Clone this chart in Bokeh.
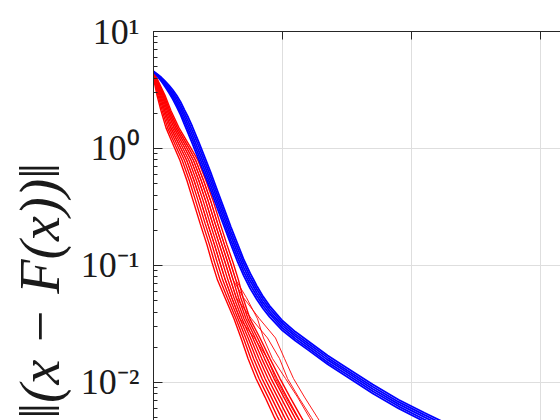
import numpy as np
from bokeh.plotting import figure
from bokeh.layouts import row
from bokeh.models import Range1d, SingleIntervalTicker, CustomJSTickFormatter
from bokeh.core.properties import value
from bokeh.embed import file_html
from bokeh.resources import INLINE

# ---------------- data ----------------
# blue runs: residual on a shared iteration grid
blue_iter = [0, 3, 6, 9, 12, 15, 18, 21, 24, 27, 30, 35, 40, 45, 50, 55, 60, 65, 70, 75, 80, 85, 90,
             100, 110, 120, 135, 150, 170, 190, 210, 230, 250]
blue_run_1 = [4.55, 4.31, 4.06, 3.76, 3.47, 3.16, 2.84, 2.50, 2.14, 1.84, 1.55, 1.14, 0.829, 0.597, 0.423, 0.300,
              0.213, 0.155, 0.112, 0.0855, 0.0673, 0.0542, 0.0452, 0.0337, 0.0271, 0.0225, 0.0170, 0.0133,
              0.00959, 0.00712, 0.00551, 0.00430, 0.00335]
blue_run_2 = [4.55, 4.27, 3.98, 3.66, 3.34, 3.02, 2.68, 2.34, 2.00, 1.70, 1.42, 1.05, 0.760, 0.547, 0.388, 0.275,
              0.195, 0.142, 0.104, 0.0793, 0.0630, 0.0511, 0.0429, 0.0321, 0.0259, 0.0215, 0.0163, 0.0127,
              0.00918, 0.00682, 0.00528, 0.00412, 0.00321]
blue_run_3 = [4.55, 4.23, 3.91, 3.56, 3.22, 2.88, 2.54, 2.20, 1.86, 1.57, 1.31, 0.959, 0.697, 0.502, 0.356, 0.252,
              0.179, 0.130, 0.0957, 0.0736, 0.0589, 0.0481, 0.0406, 0.0306, 0.0248, 0.0206, 0.0156, 0.0122,
              0.00879, 0.00653, 0.00505, 0.00394, 0.00307]
blue_run_4 = [4.55, 4.19, 3.84, 3.46, 3.10, 2.75, 2.40, 2.06, 1.73, 1.45, 1.21, 0.880, 0.639, 0.460, 0.327, 0.231,
              0.164, 0.119, 0.0883, 0.0683, 0.0551, 0.0453, 0.0385, 0.0292, 0.0237, 0.0197, 0.0149, 0.0117,
              0.00841, 0.00625, 0.00483, 0.00377, 0.00294]
blue_run_5 = [4.55, 4.15, 3.77, 3.37, 2.99, 2.63, 2.27, 1.94, 1.61, 1.34, 1.11, 0.807, 0.586, 0.422, 0.299, 0.212,
              0.151, 0.109, 0.0814, 0.0634, 0.0515, 0.0427, 0.0364, 0.0278, 0.0227, 0.0189, 0.0143, 0.0112,
              0.00806, 0.00599, 0.00463, 0.00361, 0.00281]
blue_runs = [blue_run_1, blue_run_2, blue_run_3, blue_run_4, blue_run_5]

# red runs: iteration at which each run reaches the shared residual levels
red_levels = [4.55, 3.8, 2.85, 2.1, 1.5, 1.06, 0.79, 0.53, 0.36, 0.23, 0.15, 0.106, 0.075, 0.053, 0.035,
              0.024, 0.016, 0.0108, 0.0075, 0.005, 0.0034]
red_run_1 = [0, 0.39, 2.71, 5.81, 9.69, 15.50, 20.54, 25.97, 30.62, 36.05, 41.47, 45.35, 49.61, 55.43, 62.40,
             67.83, 73.26, 79.46, 86.43, 93.80, 101.94]
red_run_2 = [0, 0.78, 3.49, 6.78, 10.95, 17.05, 22.29, 27.81, 32.56, 37.98, 43.41, 47.38, 51.65, 57.17, 63.95,
             69.67, 75.39, 81.78, 88.86, 96.42, 104.65]
red_run_3 = [0, 1.16, 4.26, 7.75, 12.21, 18.60, 24.03, 29.65, 34.50, 39.92, 45.35, 49.42, 53.68, 58.92, 65.50,
             71.51, 77.52, 84.11, 91.28, 99.03, 107.37]
red_run_4 = [0, 1.55, 5.04, 8.72, 13.47, 20.16, 25.78, 31.49, 36.43, 41.86, 47.29, 51.45, 55.72, 60.66, 67.05,
             73.35, 79.65, 86.43, 93.70, 101.65, 110.08]
red_run_5 = [0, 1.94, 5.81, 9.69, 14.73, 21.71, 27.52, 33.33, 38.37, 43.80, 49.22, 53.49, 57.75, 62.40, 68.60,
             75.19, 81.78, 88.76, 96.12, 104.26, 112.79]
red_run_6 = [0, 2.33, 6.59, 10.66, 15.99, 23.26, 29.26, 35.17, 40.31, 45.74, 51.16, 55.52, 59.79, 64.15, 70.16,
             77.04, 83.91, 91.09, 98.55, 106.88, 115.50]
red_run_7 = [0, 2.71, 7.36, 11.63, 17.25, 24.81, 31.01, 37.02, 42.25, 47.67, 53.10, 57.56, 61.82, 65.89, 71.71,
             78.88, 86.05, 93.41, 100.97, 109.50, 118.22]
red_run_8 = [0, 3.10, 8.14, 12.60, 18.51, 26.36, 32.75, 38.86, 44.19, 49.61, 55.04, 59.59, 63.86, 67.64, 73.26,
             80.72, 88.18, 95.74, 103.39, 112.11, 120.93]
red_run_9 = [0, 3.49, 8.91, 13.57, 19.77, 27.91, 34.50, 40.70, 46.12, 51.55, 56.98, 61.63, 65.89, 69.38, 74.81,
             82.56, 90.31, 98.06, 105.81, 114.73, 123.64]
red_run_10 = [0, 2.71, 7.36, 11.63, 17.25, 24.81, 31.01, 37.02, 42.25, 47.67, 53.10, 57.56, 61.82, 69.77, 82.17,
              94.57, 101.55, 108.53, 117.06, 127.13, 136.44]
red_run_11 = [0, 2.33, 6.59, 10.66, 15.99, 23.26, 29.26, 35.17, 40.31, 45.74, 51.16, 55.52, 59.79, 64.15, 75.97,
              88.37, 97.68, 103.88, 112.40, 122.48, 131.78]
red_run_12 = [0, 3.10, 8.14, 12.60, 18.51, 26.36, 32.75, 38.86, 44.19, 49.61, 55.04, 59.59, 63.86, 72.09, 80.62,
              85.27, 92.25, 102.33, 111.63, 120.93, 130.23]
red_run_13 = [0, 1.55, 5.04, 8.72, 13.47, 20.16, 25.78, 31.49, 36.43, 41.86, 47.29, 51.45, 55.72, 60.66, 67.05,
              78.30, 88.37, 94.57, 102.33, 111.63, 120.93]
red_runs_dense = [red_run_1, red_run_2, red_run_3, red_run_4, red_run_5, red_run_6, red_run_7, red_run_8, red_run_9]
red_runs_thin = [red_run_10, red_run_11, red_run_12, red_run_13]

y_tick_exponents = [-2, -1, 0, 1]
y_tick_labels = ["10⁻²", "10⁻¹", "10⁰", "10¹"]
x_tick_interval = 100
y_axis_title = ["‖(x − F(x))‖"]

AX = "#262626"

# ---------------- y-axis title strip ----------------
t = figure(width=76, height=420, output_backend="svg", toolbar_location=None,
           x_range=Range1d(0, 76), y_range=Range1d(0, 420),
           x_axis_location=None, y_axis_location=None,
           min_border_left=0, min_border_right=0, min_border_top=0, min_border_bottom=0)
t.outline_line_color = None
t.xgrid.visible = False
t.ygrid.visible = False
t.background_fill_color = "white"
t.border_fill_color = "white"
t.text(x=[39], y=[278], text=y_axis_title, angle=np.pi / 2,
       text_align="right", text_baseline="middle",
       text_font=value("Liberation Serif"), text_font_style="italic",
       text_font_size=value("56px"), text_color="#1a1a1a")

# ---------------- main plot ----------------
p = figure(width=484, height=420, output_backend="svg", toolbar_location=None,
           y_axis_type="log", x_axis_location="above",
           x_range=Range1d(0, 315.5), y_range=Range1d(0.00473, 10.001),
           min_border_left=77, min_border_top=31, min_border_right=0, min_border_bottom=0)
p.outline_line_color = None
p.background_fill_color = "white"
p.border_fill_color = "white"

xa = p.xaxis[0]
xa.ticker = SingleIntervalTicker(interval=x_tick_interval, num_minor_ticks=0)
xa.major_label_text_color = None
xa.major_label_text_font_size = "8px"
xa.major_label_standoff = 0
xa.major_tick_in = 8
xa.major_tick_out = 0
xa.minor_tick_in = 0
xa.minor_tick_out = 0
xa.axis_line_color = AX
xa.major_tick_line_color = AX

ya = p.yaxis[0]
ya.formatter = CustomJSTickFormatter(
    args=dict(exps=y_tick_exponents, labels=y_tick_labels),
    code="const e = Math.round(Math.log10(tick)); const i = exps.indexOf(e); return i >= 0 ? labels[i] : '';")
ya.major_tick_in = 9
ya.major_tick_out = 0
ya.minor_tick_in = 4
ya.minor_tick_out = 0
ya.axis_line_color = AX
ya.major_tick_line_color = AX
ya.minor_tick_line_color = AX
ya.major_label_standoff = 14
ya.major_label_text_font = "Liberation Serif"
ya.major_label_text_font_size = "36px"
ya.major_label_text_color = "#1a1a1a"

p.xgrid.grid_line_color = "#dedede"
p.ygrid.grid_line_color = "#dedede"

for run in red_runs_thin:
    p.line(run, red_levels, line_color="#ff0000", line_width=0.9)
for run in red_runs_dense:
    p.line(run, red_levels, line_color="#ff0000", line_width=1.4)
for run in blue_runs:
    p.line(blue_iter, run, line_color="#0000ff", line_width=1.8)

layout = row(t, p, spacing=0)
open("out.html", "w").write(file_html(layout, INLINE))
